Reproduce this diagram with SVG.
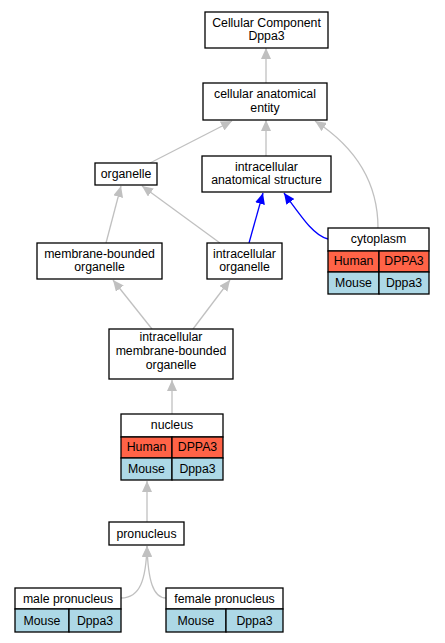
<svg xmlns="http://www.w3.org/2000/svg" width="445" height="643" viewBox="0 0 445 643">
<defs>
<marker id="ag" viewBox="0 0 11 10" refX="11" refY="5" markerWidth="11" markerHeight="10" markerUnits="userSpaceOnUse" orient="auto"><path d="M0,0 L11,5 L0,10 z" fill="#c0c0c0"/></marker>
<marker id="ab" viewBox="0 0 11 10" refX="11" refY="5" markerWidth="11" markerHeight="10" markerUnits="userSpaceOnUse" orient="auto"><path d="M0,0 L11,5 L0,10 z" fill="#0000ff"/></marker>
</defs>
<style>
.box{fill:#fff;stroke:#000;stroke-width:1.3}
.hu{fill:#ff6347;stroke:#000;stroke-width:1.3}
.mo{fill:#add8e6;stroke:#000;stroke-width:1.3}
text{font-family:"Liberation Sans",Arial,sans-serif;font-size:12.3px;fill:#000;text-anchor:middle}
.eg{fill:none;stroke:#c0c0c0;stroke-width:1.3;marker-end:url(#ag)}
.eb{fill:none;stroke:#0000ff;stroke-width:1.3;marker-end:url(#ab)}
</style>
<rect width="445" height="643" fill="#fff"/>
<g id="edges">
<path class="eg" d="M266,83 L266,48"/>
<path class="eg" d="M266,156 L266,120"/>
<path class="eg" d="M150,163 L232,121"/>
<path class="eg" d="M378,228 C378,180 352,145 315,121"/>
<path class="eg" d="M106,243 L121,186"/>
<path class="eg" d="M220,243 L142,186"/>
<path class="eb" d="M249,243 L263,193"/>
<path class="eb" d="M328,239 C315,236 305,222 284,193"/>
<path class="eg" d="M152,329 L113,280"/>
<path class="eg" d="M193,329 L230,280"/>
<path class="eg" d="M172,414 L172,380"/>
<path class="eg" d="M147,522 L147,481"/>
<path class="eg" d="M121,598 C140,598 146,580 147,546"/>
<path class="eg" d="M166,598 C153,598 148,580 147,546"/>
</g>
<g id="cc"><rect class="box" x="205" y="12" width="123" height="36"/><text x="266.5" y="26.6">Cellular Component</text><text x="266.5" y="40.4">Dppa3</text></g>
<g id="cae"><rect class="box" x="203" y="83" width="124" height="37"/><text x="265" y="98">cellular anatomical</text><text x="265" y="111.8">entity</text></g>
<g id="ias"><rect class="box" x="202" y="156" width="129" height="36"/><text x="266.5" y="170.6">intracellular</text><text x="266.5" y="184.4">anatomical structure</text></g>
<g id="organelle"><rect class="box" x="95" y="163" width="62" height="22"/><text x="126" y="177.5">organelle</text></g>
<g id="mbo"><rect class="box" x="37" y="243" width="125" height="36"/><text x="99.5" y="257.6">membrane-bounded</text><text x="99.5" y="271.4">organelle</text></g>
<g id="io"><rect class="box" x="207" y="243" width="75" height="36"/><text x="244.5" y="257.6">intracellular</text><text x="244.5" y="271.4">organelle</text></g>
<g id="cytoplasm"><rect class="box" x="328" y="228" width="101" height="23"/><text x="378.5" y="243">cytoplasm</text><rect class="hu" x="328" y="251" width="51" height="21"/><rect class="hu" x="379" y="251" width="50" height="21"/><text x="353.5" y="265">Human</text><text x="404" y="265">DPPA3</text><rect class="mo" x="328" y="272" width="51" height="22"/><rect class="mo" x="379" y="272" width="50" height="22"/><text x="353.5" y="286.5">Mouse</text><text x="404" y="286.5">Dppa3</text></g>
<g id="imbo"><rect class="box" x="109" y="329" width="124" height="50"/><text x="171" y="341">intracellular</text><text x="171" y="354.8">membrane-bounded</text><text x="171" y="368.6">organelle</text></g>
<g id="nucleus"><rect class="box" x="121" y="414" width="102" height="23"/><text x="172" y="429">nucleus</text><rect class="hu" x="121" y="437" width="51" height="21"/><rect class="hu" x="172" y="437" width="51" height="21"/><text x="146.5" y="451">Human</text><text x="197.5" y="451">DPPA3</text><rect class="mo" x="121" y="458" width="51" height="22"/><rect class="mo" x="172" y="458" width="51" height="22"/><text x="146.5" y="472.5">Mouse</text><text x="197.5" y="472.5">Dppa3</text></g>
<g id="pronucleus"><rect class="box" x="109" y="522" width="75" height="23"/><text x="146.5" y="537.5">pronucleus</text></g>
<g id="male"><rect class="box" x="15" y="588" width="106" height="21"/><text x="68" y="602.5">male pronucleus</text><rect class="mo" x="15" y="609" width="54" height="23"/><rect class="mo" x="69" y="609" width="52" height="23"/><text x="42" y="624.5">Mouse</text><text x="95" y="624.5">Dppa3</text></g>
<g id="female"><rect class="box" x="166" y="588" width="117" height="21"/><text x="224.5" y="602.5">female pronucleus</text><rect class="mo" x="166" y="609" width="60" height="23"/><rect class="mo" x="226" y="609" width="57" height="23"/><text x="196" y="624.5">Mouse</text><text x="254.5" y="624.5">Dppa3</text></g>
</svg>
